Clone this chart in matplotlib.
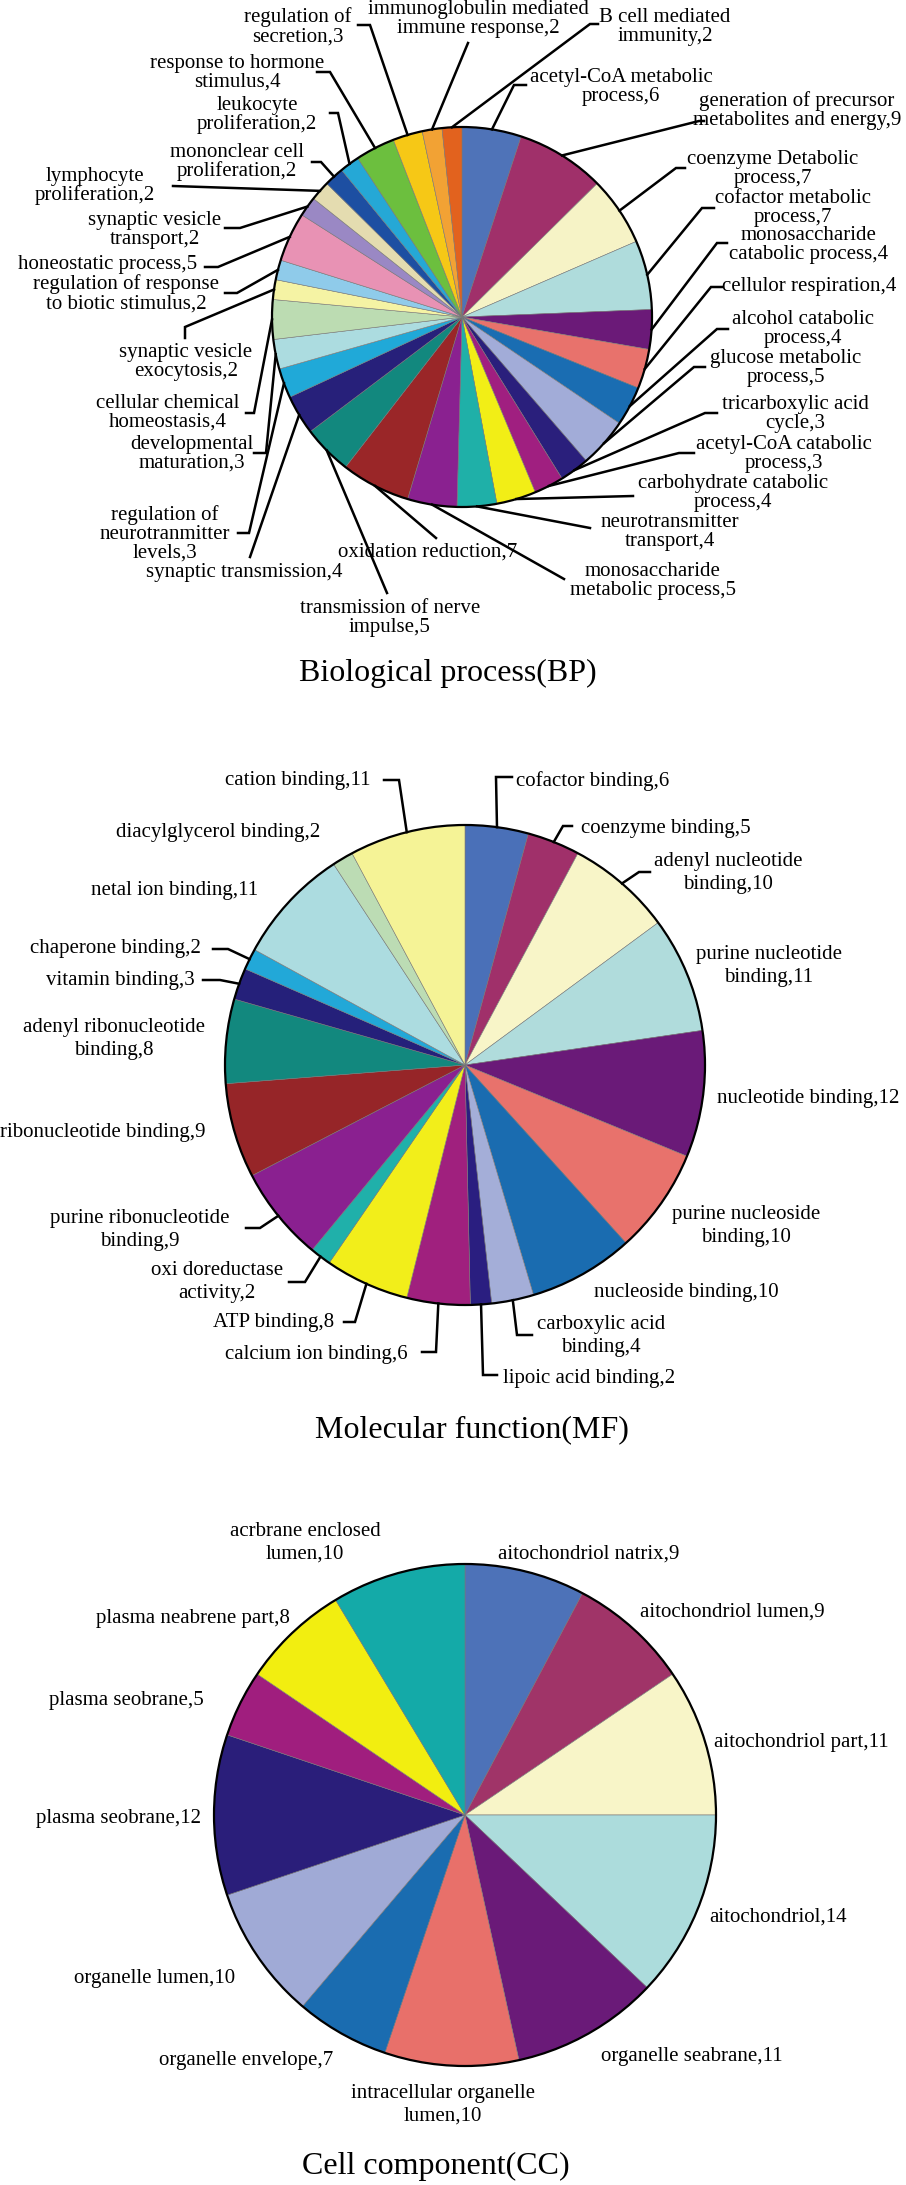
import matplotlib.pyplot as plt
from matplotlib.patches import Circle
import numpy as np

W, H = 906, 2185

# ---- Biological process ----
bp_names = ['acetyl-CoA metabolic\nprocess', 'generation of precursor\nmetabolites and energy',
            'coenzyme Detabolic\nprocess', 'cofactor metabolic\nprocess',
            'monosaccharide\ncatabolic process', 'cellulor respiration',
            'alcohol catabolic\nprocess', 'glucose metabolic\nprocess',
            'tricarboxylic acid\ncycle', 'acetyl-CoA catabolic\nprocess',
            'carbohydrate catabolic\nprocess', 'neurotransmitter\ntransport',
            'monosaccharide\nmetabolic process', 'oxidation reduction',
            'transmission of nerve\nimpulse', 'synaptic transmission',
            'regulation of\nneurotranmitter\nlevels', 'developmental\nmaturation',
            'cellular chemical\nhomeostasis', 'synaptic vesicle\nexocytosis',
            'regulation of response\nto biotic stimulus', 'honeostatic process',
            'synaptic vesicle\ntransport', 'lymphocyte\nproliferation',
            'mononclear cell\nproliferation', 'leukocyte\nproliferation',
            'response to hormone\nstimulus', 'regulation of\nsecretion',
            'immunoglobulin mediated\nimmune response', 'B cell mediated\nimmunity']
bp_values = [6, 9, 7, 7, 4, 4, 4, 5, 3, 3, 4, 4, 5, 7, 5, 4, 3, 3, 4, 2,
             2, 5, 2, 2, 2, 2, 4, 3, 2, 2]
bp_colors = ['#4f73b8', '#a0306a', '#f6f3c6', '#afdcdc', '#6b1a78', '#e8726c',
             '#1a6db2', '#a2acd8', '#2a1f7c', '#a01f80', '#f2ee16', '#1fb0a8',
             '#8a2190', '#9a2628', '#12887e', '#27207a', '#20a9d8', '#acdce0',
             '#bcdcb2', '#f5f3a4', '#8fcbea', '#e892b4', '#9a88c4', '#e4dcb0',
             '#1d4fa2', '#25a8d6', '#6cbf3e', '#f6c816', '#f2a234', '#e2621e']

# ---- Molecular function ----
mf_names = ['cofactor binding', 'coenzyme binding', 'adenyl nucleotide\nbinding',
            'purine nucleotide\nbinding', 'nucleotide binding',
            'purine nucleoside\nbinding', 'nucleoside binding',
            'carboxylic acid\nbinding', 'lipoic acid binding', 'calcium ion binding',
            'ATP binding', 'oxi doreductase\nactivity', 'purine ribonucleotide\nbinding',
            'ribonucleotide binding', 'adenyl ribonucleotide\nbinding',
            'vitamin binding', 'chaperone binding', 'netal ion binding',
            'diacylglycerol binding', 'cation binding']
mf_values = [6, 5, 10, 11, 12, 10, 10, 4, 2, 6, 8, 2, 9, 9, 8, 3, 2, 11, 2, 11]
mf_colors = ['#4a70b8', '#a0306a', '#f8f5c8', '#b0dcdc', '#6a1a78', '#e8726c',
             '#1a6cb0', '#a4aed8', '#2a1e80', '#a0207e', '#f2ee1a', '#20b0aa',
             '#8a2090', '#962528', '#12887e', '#25207a', '#22a8d8', '#acdce0',
             '#bcdcb4', '#f5f396']

# ---- Cell component ----
cc_names = ['aitochondriol natrix', 'aitochondriol lumen', 'aitochondriol part',
            'aitochondriol', 'organelle seabrane', 'intracellular organelle\nlumen',
            'organelle envelope', 'organelle lumen', 'plasma seobrane',
            'plasma seobrane', 'plasma neabrene part', 'acrbrane enclosed\nlumen']
cc_values = [9, 9, 11, 14, 11, 10, 7, 10, 12, 5, 8, 10]
cc_colors = ['#4d72b8', '#a03468', '#f8f5c8', '#acdcdc', '#6a1a78', '#e8706a',
             '#1a6cb0', '#a0aad6', '#2a1e7a', '#a01e7e', '#f2ee10', '#14aaa8']

# layout (pixel positions, y from top)
bp_text = [(621, 87, 'center'), (797, 111, 'center'), (773, 169, 'center'),
           (793, 208, 'center'), (809, 245, 'center'), (809, 287, 'center'),
           (803, 329, 'center'), (786, 368, 'center'), (795, 414, 'center'),
           (784, 454, 'center'), (733, 493, 'center'), (670, 532, 'center'),
           (653, 581, 'center'), (428, 552, 'center'), (390, 618, 'center'),
           (244, 573, 'center'), (165, 534, 'center'), (192, 454, 'center'),
           (168, 413, 'center'), (186, 362, 'center'), (126, 294, 'center'),
           (108, 265, 'center'), (155, 230, 'center'), (95, 186, 'center'),
           (237, 162, 'center'), (257, 115, 'center'), (237, 73, 'center'),
           (298, 27, 'center'), (478, 19, 'center'), (665, 27, 'center')]
bp_leader = [[(514, 85), (526, 85)], [(699, 121), (704, 121)], [(676, 168), (685, 168)],
             [(702, 208), (714, 208)], [(717, 243), (727, 243)], [(711, 287), (722, 287)],
             [(717, 329), (728, 329)], [(694, 367), (705, 367)], [(705, 413), (717, 413)],
             [(679, 453), (694, 453)], [(633, 496)], [(590, 528)],
             [(564, 579)], [(436, 538)], [(387, 593)],
             [(250, 557)], [(249, 533), (238, 533)], [(266, 453), (254, 453)],
             [(254, 413), (246, 413)], [(185, 327), (185, 338)], [(237, 293), (225, 293)],
             [(218, 267), (205, 267)], [(240, 228), (225, 228)], [(173, 186)],
             [(321, 162), (312, 162)], [(338, 113), (330, 113)], [(330, 72), (317, 72)],
             [(370, 25), (358, 25)], [(468, 43)], [(590, 24), (598, 24)]]

mf_text = [(516, 781, 'left'), (581, 828, 'left'), (728, 873, 'center'),
           (769, 966, 'center'), (808, 1099, 'center'), (746, 1226, 'center'),
           (686, 1293, 'center'), (601, 1336, 'center'), (503, 1378, 'left'),
           (316, 1354, 'center'), (274, 1323, 'center'), (217, 1282, 'center'),
           (140, 1230, 'center'), (205, 1132, 'right'), (114, 1039, 'center'),
           (120, 981, 'center'), (115, 949, 'center'), (175, 890, 'center'),
           (218, 833, 'center'), (298, 781, 'center')]
mf_leader = [[(496, 777), (512, 777)], [(563, 826), (572, 826)], [(639, 872), (650, 872)],
             None, None, None, None,
             [(517, 1335), (532, 1335)], [(483, 1375), (497, 1375)],
             [(436, 1352), (422, 1352)], [(355, 1322), (344, 1322)],
             [(305, 1282), (289, 1282)], [(260, 1228), (246, 1228)],
             None, None,
             [(220, 980), (203, 980)], [(228, 949), (213, 949)],
             None, None, [(399, 780), (384, 780)]]

cc_text = [(589, 1554, 'center'), (732, 1612, 'center'), (801, 1742, 'center'),
           (778, 1917, 'center'), (692, 2056, 'center'), (443, 2105, 'center'),
           (246, 2060, 'center'), (155, 1978, 'center'), (118, 1818, 'center'),
           (126, 1700, 'center'), (193, 1618, 'center'), (305, 1543, 'center')]
cc_leader = [None] * len(cc_values)

FONT = 'Liberation Serif'

fig = plt.figure(figsize=(W / 100, H / 100), dpi=100)
ax = fig.add_axes([0, 0, 1, 1])


def draw_pie(values, names, colors, center, radius, text_pos, leaders, spacing):
    wedges, _ = ax.pie(values, colors=colors, startangle=-90, counterclock=True,
                       center=center, radius=radius, frame=True,
                       wedgeprops=dict(edgecolor='#777777', linewidth=0.4))
    ax.add_patch(Circle(center, radius, fill=False, ec='black', lw=1.6, zorder=3))
    for w, name, v, (tx, ty, ha), path in zip(wedges, names, values, text_pos, leaders):
        ax.text(tx, ty, f'{name},{v}', ha=ha, va='center', fontsize=15,
                family=FONT, linespacing=spacing, multialignment='center')
        if path is not None:
            mid = np.deg2rad((w.theta1 + w.theta2) / 2)
            pts = [(center[0] + radius * np.cos(mid), center[1] + radius * np.sin(mid))] + path
            xs, ys = zip(*pts)
            ax.plot(xs, ys, color='black', lw=1.8, solid_joinstyle='miter', zorder=4)


draw_pie(bp_values, bp_names, bp_colors, (462, 317), 190, bp_text, bp_leader, 1.0)
draw_pie(mf_values, mf_names, mf_colors, (465, 1065), 240, mf_text, mf_leader, 1.25)
draw_pie(cc_values, cc_names, cc_colors, (465, 1815), 251, cc_text, cc_leader, 1.25)

ax.text(448, 673, 'Biological process(BP)', ha='center', va='center', fontsize=23, family=FONT)
ax.text(472, 1430, 'Molecular function(MF)', ha='center', va='center', fontsize=23, family=FONT)
ax.text(436, 2166, 'Cell component(CC)', ha='center', va='center', fontsize=23, family=FONT)

ax.set_xlim(0, W)
ax.set_ylim(H, 0)
ax.set_aspect('equal')
ax.axis('off')

fig.savefig('out.png', dpi=100, facecolor='white')
